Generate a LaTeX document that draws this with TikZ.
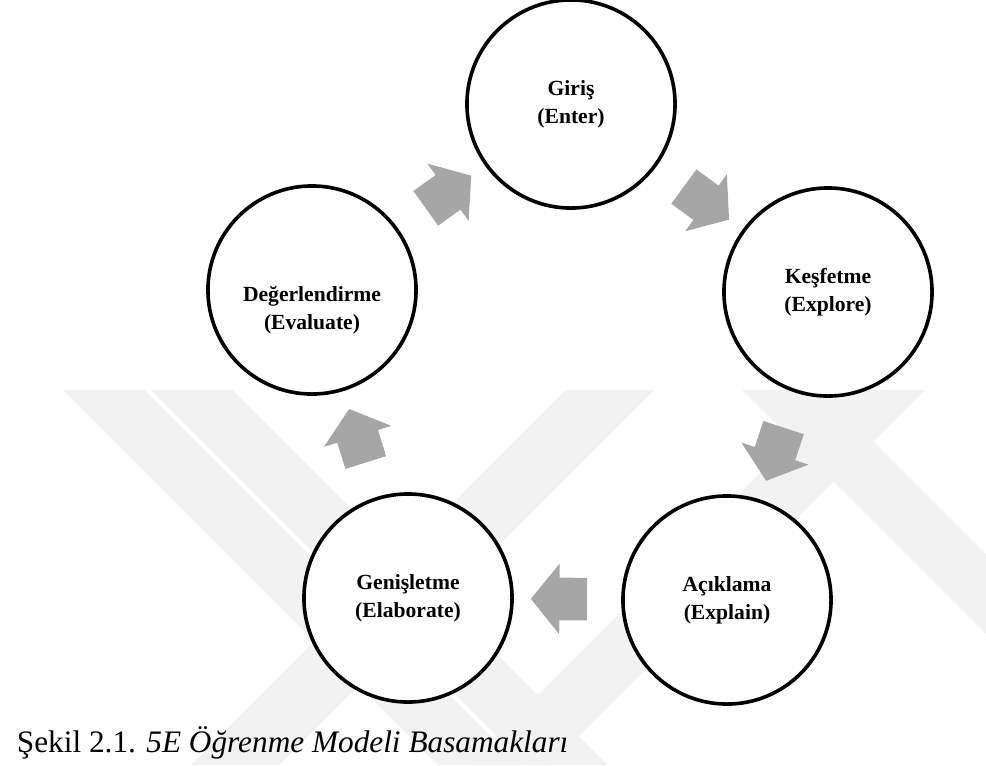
\documentclass[tikz,border=0pt]{standalone}
\usepackage{fontspec}
\setmainfont{Liberation Serif}
\usetikzlibrary{shapes.arrows}

\definecolor{arrowgray}{RGB}{166,166,166}
\definecolor{markgray}{RGB}{242,242,242}

\tikzset{
  phasetext/.style={align=center, inner sep=0pt,
    font=\bfseries\fontsize{15.6}{20.5}\selectfont},
  phase/.style={circle, draw=black, fill=white, line width=2.6pt,
    minimum size=2.08in, phasetext},
  flow/.style={single arrow, fill=arrowgray, draw=none,
    inner xsep=0pt, inner ysep=0.21in, minimum height=0.56in,
    single arrow head extend=0.14in, single arrow tip angle=102,
    sloped, allow upside down}
}

\begin{document}
\begin{tikzpicture}[x=0.01in,y=-0.01in]
\useasboundingbox (0,0) rectangle (986,765);
% faint watermark bands
\fill[markgray] (63,390) -- (145,390) -- (520,765) -- (438,765) -- cycle;
\fill[markgray] (151,390) -- (233,390) -- (608,765) -- (526,765) -- cycle;
\fill[markgray] (566,390) -- (654,390) -- (279,765) -- (191,765) -- cycle;
\fill[markgray] (742,390) -- (822,390) -- (1197,765) -- (1117,765) -- cycle;
\fill[markgray] (843,390) -- (925,390) -- (550,765) -- (468,765) -- cycle;

% the five phases
\node[phase] (enter) at (571,104) {Giriş\\(Enter)};
\node[phase] (explore) at (828,292) {Keşfetme\\(Explore)};
\node[phase] (explain) at (727,600) {Açıklama\\(Explain)};
\node[phase] (elaborate) at (408,598) {Genişletme\\(Elaborate)};
\node[phase, label={[phasetext, yshift=-0.2in]center:Değerlendirme\\(Evaluate)}]
  (evaluate) at (312,290) {};

% block arrows between phases
\path (enter) -- node[flow] (e2x) {} (explore);
\path (explore) -- node[flow] (x2p) {} (explain);
\path (explain) -- node[flow] (p2l) {} (elaborate);
\path (elaborate) -- node[flow] (l2v) {} (evaluate);
\path (evaluate) -- node[flow] (v2e) {} (enter);

\node[anchor=base west, font=\fontsize{22.6}{27}\selectfont] (caption) at (12,752)
  {Şekil 2.1. \textit{5E Öğrenme Modeli Basamakları}};
\end{tikzpicture}
\end{document}
